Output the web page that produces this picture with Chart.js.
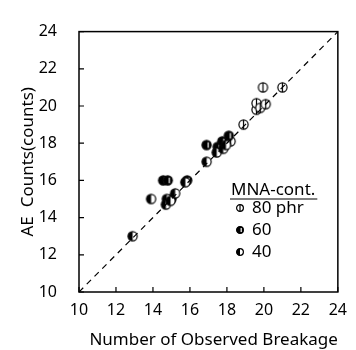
<!DOCTYPE html>
<html>
<head>
<meta charset="utf-8">
<script src="https://cdn.jsdelivr.net/npm/chart.js@4.4.0/dist/chart.umd.min.js"></script>
<style>
html, body { margin: 0; padding: 0; background: #fff; }
#wrap { width: 356px; height: 350px; }
</style>
</head>
<body>
<div id="wrap"><canvas id="chart"></canvas></div>
<script>
// Axis ticks
const tickValues = [10, 12, 14, 16, 18, 20, 22, 24];

// MNA content 80 phr
const phr80X = [18.2, 18.9, 19.6, 19.6, 19.8, 20.1, 19.95, 21.0];
const phr80Y = [18.1, 19.0, 19.8, 20.15, 19.9, 20.1, 21.0, 21.0];
// MNA content 60 phr
const phr60X = [14.55, 14.8, 15.0, 15.85, 16.9, 17.5, 17.75, 18.1];
const phr60Y = [16.0, 16.0, 15.0, 16.0, 17.9, 17.8, 18.1, 18.4];
// MNA content 40 phr
const phr40X = [12.9, 13.9, 14.75, 14.7, 14.95, 15.2, 15.75, 16.9, 17.45, 17.8, 17.95];
const phr40Y = [13.0, 15.0, 15.0, 14.7, 14.9, 15.3, 15.9, 17.0, 17.5, 17.7, 17.9];

// diagonal y = x
const diagX = [10, 24];

const legendLabels = ['80 phr', '60', '40'];

const FONT = 'Noto Sans, sans-serif';

function toPoints(xs, ys) {
    return xs.map((x, i) => ({ x: x, y: ys[i] }));
}

// Build the small circle markers
function makeMarker(kind, r) {
    const size = Math.ceil(r * 2 + 3);
    const c = document.createElement('canvas');
    c.width = size;
    c.height = size;
    const g = c.getContext('2d');
    const m = size / 2;
    g.lineWidth = 1.2;
    g.strokeStyle = '#000';
    g.fillStyle = '#fff';
    g.beginPath();
    g.arc(m, m, r, 0, Math.PI * 2);
    g.fill();
    if (kind === '60') {
        g.fillStyle = '#000';
        g.fill();
        g.strokeStyle = '#fff';
        g.beginPath();
        g.moveTo(m + r * 0.35, m - r * 0.6);
        g.lineTo(m + r * 0.35, m + r * 0.6);
        g.stroke();
        g.strokeStyle = '#000';
    } else if (kind === '40') {
        g.fillStyle = '#000';
        g.beginPath();
        g.arc(m, m, r, Math.PI / 2, Math.PI * 1.5);
        g.closePath();
        g.fill();
    } else {
        g.beginPath();
        g.moveTo(m, m - r);
        g.lineTo(m, m + r);
        g.stroke();
    }
    g.beginPath();
    g.arc(m, m, r, 0, Math.PI * 2);
    g.stroke();
    return c;
}

const markers = {
    '80': makeMarker('80', 4.6),
    '60': makeMarker('60', 4.6),
    '40': makeMarker('40', 4.6)
};
const legendMarkers = [makeMarker('80', 3.4), makeMarker('60', 3.4), makeMarker('40', 3.4)];

// frame, inward ticks and the legend box
const framePlugin = {
    id: 'frame',
    afterDraw(chart) {
        const { ctx, chartArea: a, scales } = chart;
        ctx.save();
        ctx.strokeStyle = '#000';
        ctx.lineWidth = 1.5;
        ctx.strokeRect(a.left, a.top, a.right - a.left, a.bottom - a.top);
        ctx.lineWidth = 1.2;
        ctx.beginPath();
        tickValues.forEach(v => {
            const px = scales.x.getPixelForValue(v);
            ctx.moveTo(px, a.bottom);
            ctx.lineTo(px, a.bottom - 5);
            const py = scales.y.getPixelForValue(v);
            ctx.moveTo(a.left, py);
            ctx.lineTo(a.left + 5, py);
        });
        ctx.stroke();

        // legend
        ctx.fillStyle = '#000';
        ctx.font = '17px ' + FONT;
        ctx.textBaseline = 'middle';
        ctx.textAlign = 'left';
        const lx = 231;
        ctx.fillText('MNA-cont.', lx, 190);
        const w = ctx.measureText('MNA-cont.').width;
        ctx.lineWidth = 1.2;
        ctx.beginPath();
        ctx.moveTo(lx - 1, 199);
        ctx.lineTo(lx + w + 2, 199);
        ctx.stroke();
        const rowY = [208, 230, 252];
        legendLabels.forEach((t, i) => {
            const mk = legendMarkers[i];
            ctx.drawImage(mk, 240 - mk.width / 2, rowY[i] - mk.height / 2);
            ctx.fillText(t, 252, rowY[i]);
        });
        ctx.restore();
    }
};

new Chart(document.getElementById('chart'), {
    type: 'scatter',
    data: {
        datasets: [
            {
                type: 'line',
                data: toPoints(diagX, diagX),
                borderColor: '#000',
                borderWidth: 1.2,
                borderDash: [6, 5],
                pointRadius: 0,
                fill: false
            },
            {
                data: toPoints(phr40X, phr40Y),
                pointStyle: markers['40'],
                pointRadius: 5
            },
            {
                data: toPoints(phr60X, phr60Y),
                pointStyle: markers['60'],
                pointRadius: 5
            },
            {
                data: toPoints(phr80X, phr80Y),
                pointStyle: markers['80'],
                pointRadius: 5
            }
        ]
    },
    options: {
        responsive: true,
        maintainAspectRatio: false,
        animation: false,
        layout: { padding: { top: 18, right: 8, left: 0, bottom: 0 } },
        plugins: {
            legend: { display: false },
            tooltip: { enabled: false }
        },
        scales: {
            x: {
                type: 'linear',
                min: 10,
                max: 24,
                afterBuildTicks: s => { s.ticks = tickValues.map(v => ({ value: v })); },
                afterFit: s => { s.height = 58; },
                grid: { display: false, drawTicks: false },
                border: { display: false },
                ticks: {
                    color: '#000',
                    font: { family: FONT, size: 16 },
                    padding: 9,
                    maxRotation: 0
                },
                title: {
                    display: true,
                    text: 'Number of Observed Breakage',
                    align: 'end',
                    color: '#000',
                    font: { family: FONT, size: 17 },
                    padding: { top: 0, bottom: 0 }
                }
            },
            y: {
                type: 'linear',
                min: 10,
                max: 24,
                afterBuildTicks: s => { s.ticks = tickValues.map(v => ({ value: v })); },
                afterFit: s => { s.width = 79; },
                grid: { display: false, drawTicks: false },
                border: { display: false },
                ticks: {
                    color: '#000',
                    font: { family: FONT, size: 16 },
                    padding: 22
                },
                title: {
                    display: true,
                    text: 'AE  Counts(counts)',
                    color: '#000',
                    font: { family: FONT, size: 17 },
                    padding: { top: 18, bottom: 0 }
                }
            }
        }
    },
    plugins: [framePlugin]
});
</script>
</body>
</html>
